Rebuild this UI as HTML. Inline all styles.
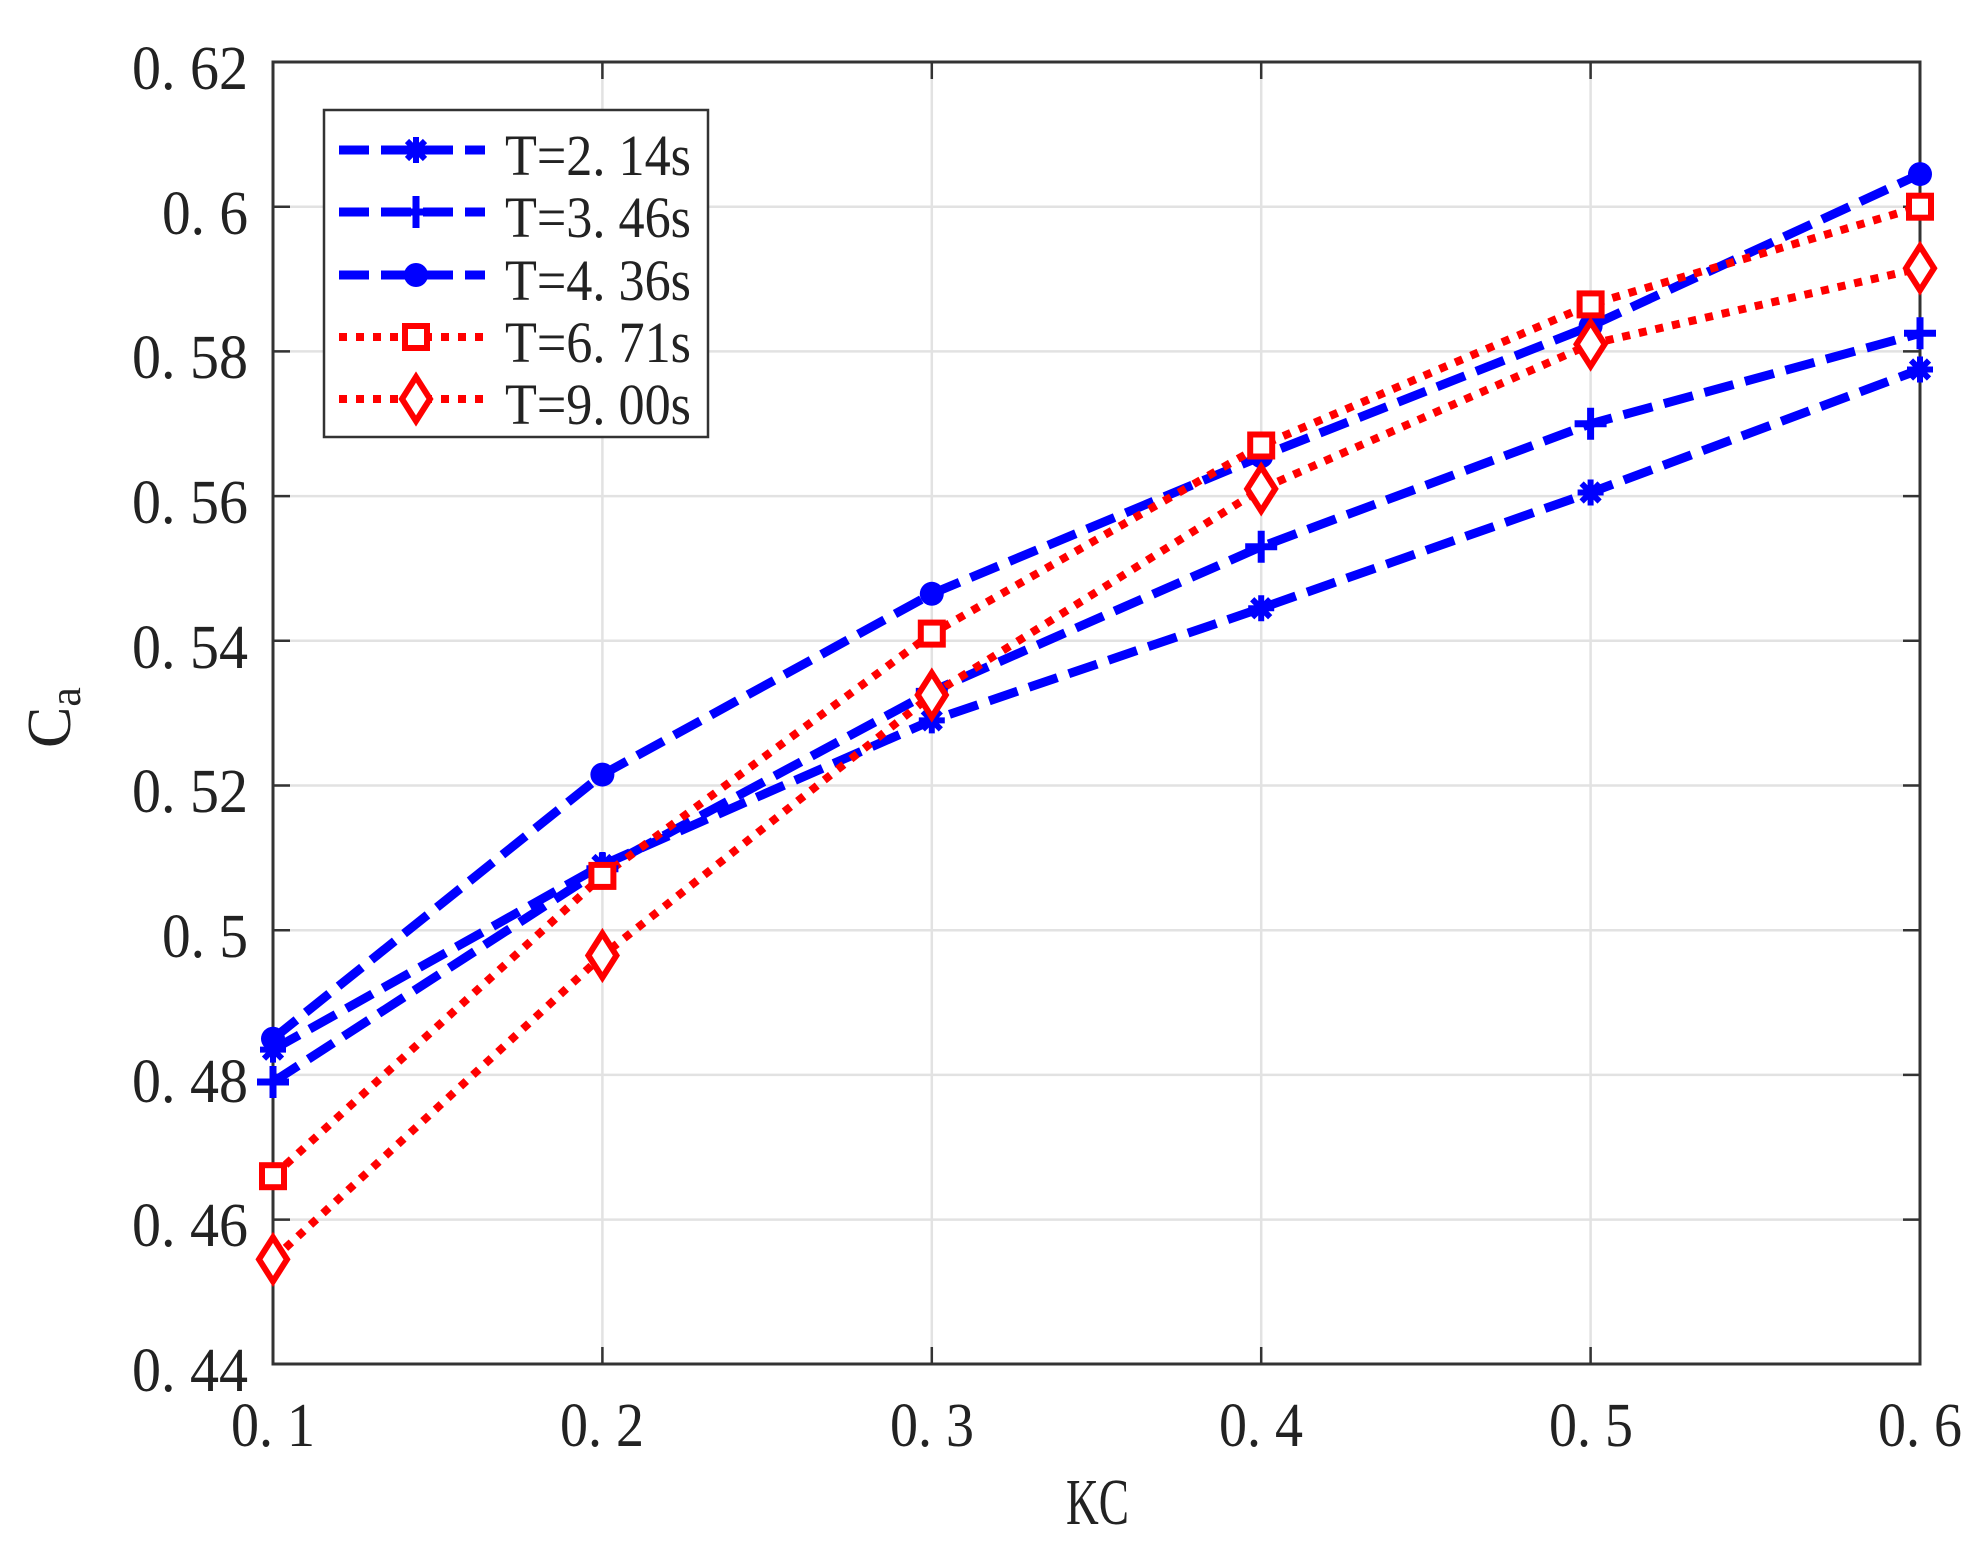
<!DOCTYPE html>
<html><head><meta charset="utf-8"><style>
html,body{margin:0;padding:0;background:#fff;}
svg{display:block;}
text{font-family:"Liberation Serif",serif;fill:#222;}
</style></head><body>
<svg width="1987" height="1556" viewBox="0 0 1987 1556" xmlns="http://www.w3.org/2000/svg">
<defs>
<g id="ast"><path d="M-13,0H13M0,-13V13M-9,-9L9,9M-9,9L9,-9" stroke="#0000ff" stroke-width="6" fill="none"/></g>
<g id="plus"><path d="M-16,0H16M0,-16V16" stroke="#0000ff" stroke-width="7" fill="none"/></g>
<g id="circ"><circle r="12" fill="#0000ff"/></g>
<g id="sq"><rect x="-11" y="-11" width="22" height="22" fill="#fff" stroke="#ff0000" stroke-width="6"/></g>
<g id="dia"><path d="M0,-22L14,0L0,22L-14,0Z" fill="#fff" stroke="#ff0000" stroke-width="6"/></g>
</defs>
<rect width="1987" height="1556" fill="#fff"/>
<g stroke="#e2e2e2" stroke-width="2.5">
<path d="M273,206.7H1920M273,351.4H1920M273,496.1H1920M273,640.8H1920M273,785.5H1920M273,930.2H1920M273,1074.9H1920M273,1219.6H1920"/>
<path d="M602.4,62V1364M931.8,62V1364M1261.2,62V1364M1590.6,62V1364"/>
</g>
<g stroke="#333" stroke-width="2.5">
<path d="M273,206.7h17M273,351.4h17M273,496.1h17M273,640.8h17M273,785.5h17M273,930.2h17M273,1074.9h17M273,1219.6h17"/>
<path d="M1920,206.7h-17M1920,351.4h-17M1920,496.1h-17M1920,640.8h-17M1920,785.5h-17M1920,930.2h-17M1920,1074.9h-17M1920,1219.6h-17"/>
<path d="M602.4,1364v-17M931.8,1364v-17M1261.2,1364v-17M1590.6,1364v-17M602.4,62v17M931.8,62v17M1261.2,62v17M1590.6,62v17"/>
</g>
<rect x="273" y="62" width="1647" height="1302" fill="none" stroke="#333" stroke-width="3"/>
<g fill="none" stroke-linejoin="round">
<polyline points="273,1049.6 602.4,865 931.8,720.4 1261.2,608.2 1590.6,492.5 1920,369.5" stroke="#0000ff" stroke-width="9" stroke-dasharray="30 12"/>
<polyline points="273,1082 602.4,868.7 931.8,691.4 1261.2,546.7 1590.6,423.8 1920,333.3" stroke="#0000ff" stroke-width="9" stroke-dasharray="30 12"/>
<polyline points="273,1038.7 602.4,774.6 931.8,593.8 1261.2,456.3 1590.6,326.1 1920,174.1" stroke="#0000ff" stroke-width="9" stroke-dasharray="30 12"/>
<polyline points="273,1176.2 602.4,875.9 931.8,633.6 1261.2,445.5 1590.6,304.4 1920,206.7" stroke="#ff0000" stroke-width="8" stroke-dasharray="8 9"/>
<polyline points="273,1259.4 602.4,955.5 931.8,695 1261.2,488.9 1590.6,344.2 1920,268.2" stroke="#ff0000" stroke-width="8" stroke-dasharray="8 9"/>
</g>
<g>
<use href="#ast" x="273" y="1049.6"/><use href="#ast" x="602.4" y="865"/><use href="#ast" x="931.8" y="720.4"/><use href="#ast" x="1261.2" y="608.2"/><use href="#ast" x="1590.6" y="492.5"/><use href="#ast" x="1920" y="369.5"/>
<use href="#plus" x="273" y="1082"/><use href="#plus" x="602.4" y="868.7"/><use href="#plus" x="931.8" y="691.4"/><use href="#plus" x="1261.2" y="546.7"/><use href="#plus" x="1590.6" y="423.8"/><use href="#plus" x="1920" y="333.3"/>
<use href="#circ" x="273" y="1038.7"/><use href="#circ" x="602.4" y="774.6"/><use href="#circ" x="931.8" y="593.8"/><use href="#circ" x="1261.2" y="456.3"/><use href="#circ" x="1590.6" y="326.1"/><use href="#circ" x="1920" y="174.1"/>
<use href="#sq" x="273" y="1176.2"/><use href="#sq" x="602.4" y="875.9"/><use href="#sq" x="931.8" y="633.6"/><use href="#sq" x="1261.2" y="445.5"/><use href="#sq" x="1590.6" y="304.4"/><use href="#sq" x="1920" y="206.7"/>
<use href="#dia" x="273" y="1259.4"/><use href="#dia" x="602.4" y="955.5"/><use href="#dia" x="931.8" y="695"/><use href="#dia" x="1261.2" y="488.9"/><use href="#dia" x="1590.6" y="344.2"/><use href="#dia" x="1920" y="268.2"/>
</g>
<rect x="324" y="110" width="384" height="327" fill="#fff" stroke="#333" stroke-width="2.5"/>
<g fill="none">
<path d="M339,150H485" stroke="#0000ff" stroke-width="9" stroke-dasharray="30 12"/>
<path d="M339,212H485" stroke="#0000ff" stroke-width="9" stroke-dasharray="30 12"/>
<path d="M339,275H485" stroke="#0000ff" stroke-width="9" stroke-dasharray="30 12"/>
<path d="M339,337H485" stroke="#ff0000" stroke-width="8" stroke-dasharray="8 9"/>
<path d="M339,399H485" stroke="#ff0000" stroke-width="8" stroke-dasharray="8 9"/>
</g>
<use href="#ast" x="416" y="150"/><use href="#plus" x="416" y="212"/><use href="#circ" x="416" y="275"/><use href="#sq" x="416" y="337"/><use href="#dia" x="416" y="399"/>
<g font-size="58">
<text x="505" y="175" textLength="186" lengthAdjust="spacingAndGlyphs">T=2. 14s</text>
<text x="505" y="237" textLength="186" lengthAdjust="spacingAndGlyphs">T=3. 46s</text>
<text x="505" y="300" textLength="186" lengthAdjust="spacingAndGlyphs">T=4. 36s</text>
<text x="505" y="362" textLength="186" lengthAdjust="spacingAndGlyphs">T=6. 71s</text>
<text x="505" y="424" textLength="186" lengthAdjust="spacingAndGlyphs">T=9. 00s</text>
</g>
<g font-size="62">
<text x="132" y="89" textLength="116" lengthAdjust="spacingAndGlyphs">0. 62</text>
<text x="162" y="234" textLength="86" lengthAdjust="spacingAndGlyphs">0. 6</text>
<text x="132" y="378" textLength="116" lengthAdjust="spacingAndGlyphs">0. 58</text>
<text x="132" y="523" textLength="116" lengthAdjust="spacingAndGlyphs">0. 56</text>
<text x="132" y="668" textLength="116" lengthAdjust="spacingAndGlyphs">0. 54</text>
<text x="132" y="812" textLength="116" lengthAdjust="spacingAndGlyphs">0. 52</text>
<text x="162" y="957" textLength="86" lengthAdjust="spacingAndGlyphs">0. 5</text>
<text x="132" y="1102" textLength="116" lengthAdjust="spacingAndGlyphs">0. 48</text>
<text x="132" y="1246" textLength="116" lengthAdjust="spacingAndGlyphs">0. 46</text>
<text x="132" y="1391" textLength="116" lengthAdjust="spacingAndGlyphs">0. 44</text>
<text x="231" y="1446" textLength="84" lengthAdjust="spacingAndGlyphs">0. 1</text>
<text x="560" y="1446" textLength="84" lengthAdjust="spacingAndGlyphs">0. 2</text>
<text x="890" y="1446" textLength="84" lengthAdjust="spacingAndGlyphs">0. 3</text>
<text x="1219" y="1446" textLength="84" lengthAdjust="spacingAndGlyphs">0. 4</text>
<text x="1549" y="1446" textLength="84" lengthAdjust="spacingAndGlyphs">0. 5</text>
<text x="1878" y="1446" textLength="84" lengthAdjust="spacingAndGlyphs">0. 6</text>
<text x="1066" y="1524" font-size="66" textLength="63" lengthAdjust="spacingAndGlyphs">KC</text>
</g>
<text transform="translate(70,748) rotate(-90)" font-size="62">C<tspan font-size="44" dy="10">a</tspan></text>
</svg>
</body></html>
